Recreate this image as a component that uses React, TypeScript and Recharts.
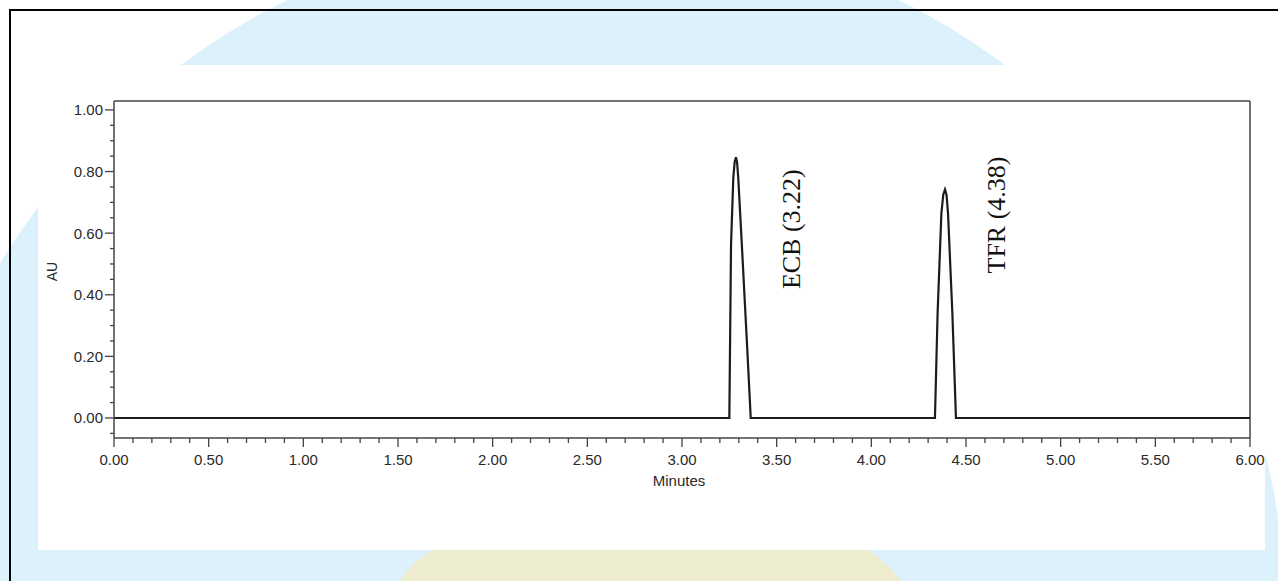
import React from 'react';
import { LineChart, Line, XAxis, YAxis, ReferenceLine, ReferenceDot } from 'recharts';

// Chromatogram trace: retention time (minutes) and absorbance (AU)
const minutes = [0, 3.25, 3.259, 3.271, 3.278, 3.285, 3.291, 3.297, 3.318, 3.345, 3.363, 4.336, 4.35, 4.37, 4.38, 4.389, 4.397, 4.405, 4.428, 4.447, 6];
const absorbance = [0, 0, 0.562, 0.78, 0.83, 0.846, 0.83, 0.78, 0.54, 0.22, 0, 0, 0.34, 0.665, 0.725, 0.742, 0.725, 0.665, 0.34, 0, 0];

// Peak annotations
const peakLabels = ['ECB (3.22)', 'TFR (4.38)'];
const peakLabelMinutes = [3.623, 4.706];
const peakLabelAU = [0.613, 0.659];

// Axis ticks
const xMajorTicks = [0, 0.5, 1, 1.5, 2, 2.5, 3, 3.5, 4, 4.5, 5, 5.5, 6];
const xMajorLabels = ['0.00', '0.50', '1.00', '1.50', '2.00', '2.50', '3.00', '3.50', '4.00', '4.50', '5.00', '5.50', '6.00'];
const xAllTicks = [0, 0.1, 0.2, 0.3, 0.4, 0.5, 0.6, 0.7, 0.8, 0.9, 1, 1.1, 1.2, 1.3, 1.4, 1.5, 1.6, 1.7, 1.8, 1.9, 2, 2.1, 2.2, 2.3, 2.4, 2.5, 2.6, 2.7, 2.8, 2.9, 3, 3.1, 3.2, 3.3, 3.4, 3.5, 3.6, 3.7, 3.8, 3.9, 4, 4.1, 4.2, 4.3, 4.4, 4.5, 4.6, 4.7, 4.8, 4.9, 5, 5.1, 5.2, 5.3, 5.4, 5.5, 5.6, 5.7, 5.8, 5.9, 6];
const yMajorTicks = [0, 0.2, 0.4, 0.6, 0.8, 1];
const yMajorLabels = ['0.00', '0.20', '0.40', '0.60', '0.80', '1.00'];
const yAllTicks = [-0.05, 0, 0.05, 0.1, 0.15, 0.2, 0.25, 0.3, 0.35, 0.4, 0.45, 0.5, 0.55, 0.6, 0.65, 0.7, 0.75, 0.8, 0.85, 0.9, 0.95, 1];
const xDomain = [0, 6];
const yDomain = [-0.065, 1.029];

const data = minutes.map((m, i) => ({ m, au: absorbance[i] }));

const SANS = "'Liberation Sans', Arial, sans-serif";
const SERIF = "'Liberation Serif', 'Times New Roman', serif";
const AXIS = '#444444';

const findIdx = (arr: number[], v: number) => arr.findIndex((a) => Math.abs(a - v) < 1e-6);

const XTick = (props: any) => {
  const { x, y, payload } = props;
  const idx = findIdx(xMajorTicks, payload.value);
  const major = idx >= 0;
  return (
    <g>
      <line x1={x} x2={x} y1={y} y2={y + (major ? 9 : 5)} stroke={AXIS} strokeWidth={1.3} />
      {major && (
        <text x={x} y={y + 27} textAnchor="middle" fontSize={15} fontFamily={SANS} fill="#2a2a2a">
          {xMajorLabels[idx]}
        </text>
      )}
    </g>
  );
};

const YTick = (props: any) => {
  const { x, y, payload } = props;
  const idx = findIdx(yMajorTicks, payload.value);
  const major = idx >= 0;
  return (
    <g>
      <line x1={x - (major ? 9 : 4)} x2={x} y1={y} y2={y} stroke={AXIS} strokeWidth={1.3} />
      {major && (
        <text x={x - 11} y={y} dy="0.36em" textAnchor="end" fontSize={15} fontFamily={SANS} fill="#2a2a2a">
          {yMajorLabels[idx]}
        </text>
      )}
    </g>
  );
};

export default function App() {
  return (
    <div style={{ position: 'absolute', left: 0, top: 0, width: 1278, height: 581, overflow: 'hidden', background: '#ffffff' }}>
      {/* watermark backdrop */}
      <div style={{ position: 'absolute', left: -100, top: -71, width: 1386, height: 1386, borderRadius: '50%', background: '#dcf1fb' }} />
      <div style={{ position: 'absolute', left: 390, top: 500, width: 520, height: 220, borderRadius: '50%', background: 'rgba(252, 232, 170, 0.55)' }} />
      {/* frame lines */}
      <div style={{ position: 'absolute', left: 9, top: 9, width: 1278, height: 2, background: '#000' }} />
      <div style={{ position: 'absolute', left: 9, top: 9, width: 2, height: 600, background: '#000' }} />
      {/* white panel */}
      <div style={{ position: 'absolute', left: 38, top: 65, width: 1227, height: 485, background: '#ffffff' }} />
      <LineChart
        width={1278}
        height={581}
        data={data}
        margin={{ top: 101, right: 28, bottom: 0, left: 0 }}
        style={{ position: 'absolute', left: 0, top: 0 }}
      >
        <XAxis
          dataKey="m"
          type="number"
          domain={xDomain}
          ticks={xAllTicks}
          interval={0}
          tickSize={0}
          tickMargin={0}
          tickLine={false}
          tick={XTick}
          height={143}
          axisLine={{ stroke: AXIS, strokeWidth: 1.5 }}
          allowDataOverflow
          label={{
            content: () => (
              <text x={679} y={486} textAnchor="middle" fontSize={15} fontFamily={SANS} fill="#2a2a2a">
                Minutes
              </text>
            ),
          }}
        />
        <YAxis
          type="number"
          domain={yDomain}
          ticks={yAllTicks}
          interval={0}
          tickSize={0}
          tickMargin={0}
          tickLine={false}
          tick={YTick}
          width={114}
          axisLine={{ stroke: AXIS, strokeWidth: 1.5 }}
          allowDataOverflow
          label={{
            content: (p: any) => {
              const vb = p.viewBox || { y: 101, height: 337 };
              const cy = vb.y + vb.height / 2 + 2;
              return (
                <text x={57} y={cy} transform={`rotate(-90 57 ${cy})`} textAnchor="middle" fontSize={14} fontFamily={SANS} fill="#2a2a2a">
                  AU
                </text>
              );
            },
          }}
        />
        <ReferenceLine y={yDomain[1]} stroke={AXIS} strokeWidth={1.5} ifOverflow="visible" />
        <ReferenceLine x={xDomain[1]} stroke={AXIS} strokeWidth={1.5} ifOverflow="visible" />
        <Line
          dataKey="au"
          type="linear"
          stroke="#1c1c1c"
          strokeWidth={2.2}
          dot={false}
          activeDot={false}
          isAnimationActive={false}
        />
        {peakLabels.map((txt, i) => (
          <ReferenceDot
            key={txt}
            x={peakLabelMinutes[i]}
            y={peakLabelAU[i]}
            r={0}
            ifOverflow="visible"
            shape={(p: any) => (
              <text
                x={p.cx}
                y={p.cy}
                transform={`rotate(-90 ${p.cx} ${p.cy})`}
                textAnchor="middle"
                fontSize={26}
                fontFamily={SERIF}
                fill="#111"
              >
                {txt}
              </text>
            )}
          />
        ))}
      </LineChart>
    </div>
  );
}
